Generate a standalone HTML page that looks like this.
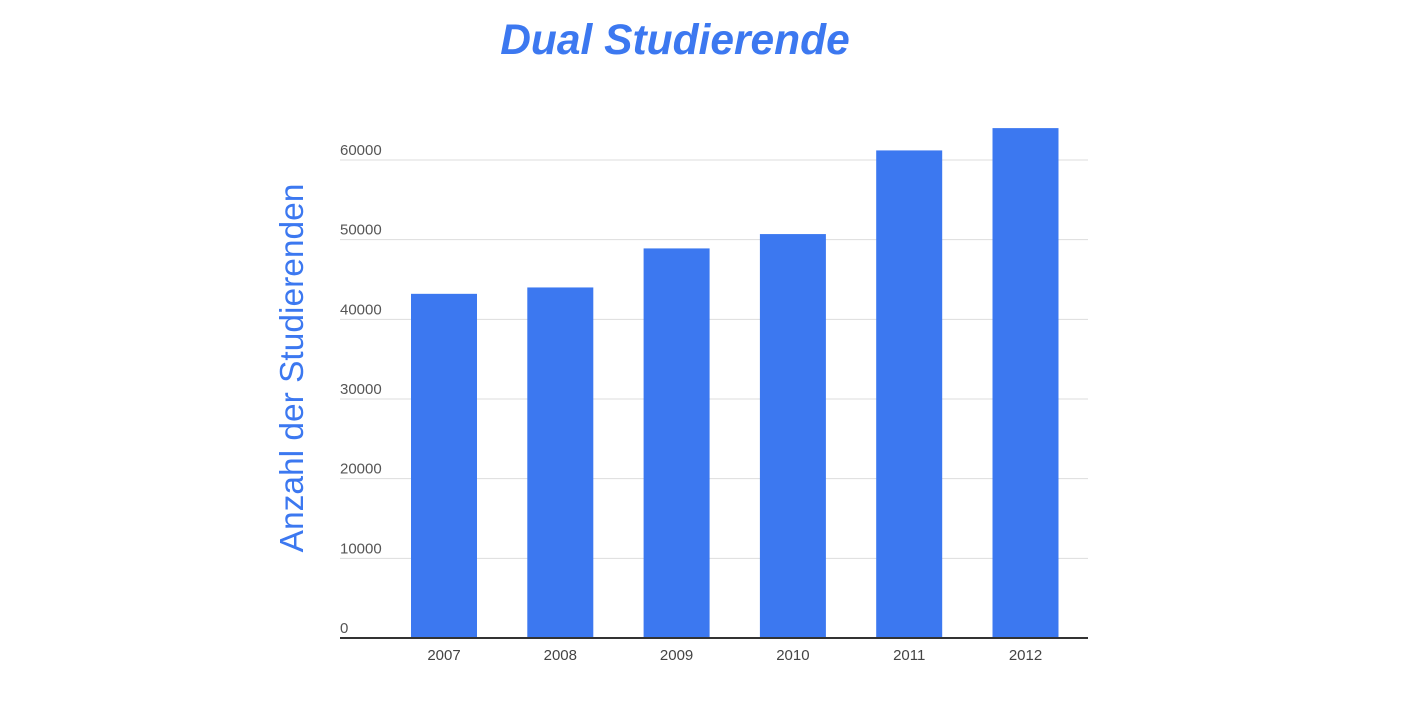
<!DOCTYPE html>
<html><head><meta charset="utf-8"><style>
body{margin:0;background:#fff;width:1401px;height:711px;overflow:hidden}
svg{display:block;font-family:"Liberation Sans",Arial,sans-serif}
</style></head><body>
<svg width="1401" height="711">
<text x="675" y="54" text-anchor="middle" font-size="42.5" font-weight="bold" font-style="italic" fill="#3c78f0">Dual Studierende</text>
<text transform="translate(303,368) rotate(-90)" text-anchor="middle" font-size="33.5" fill="#3c78f0">Anzahl der Studierenden</text>
<g id="grid"></g><g id="bars"></g><g id="xl"></g>
<line x1="340" x2="1088" y1="638" y2="638" stroke="#333" stroke-width="2"/>
</svg>
<script>
const categories=["2007","2008","2009","2010","2011","2012"];
const values=[43200,44000,48900,50700,61200,64000];
const ticks=[0,10000,20000,30000,40000,50000,60000];
const NS="http://www.w3.org/2000/svg";
const y=v=>638-v*0.007967;
const x=i=>444+i*116.3;
const g=document.getElementById('grid'),b=document.getElementById('bars'),xl=document.getElementById('xl');
ticks.forEach(t=>{
 if(t>0){const l=document.createElementNS(NS,'line');
 l.setAttribute('x1',340);l.setAttribute('x2',1088);l.setAttribute('y1',y(t));l.setAttribute('y2',y(t));l.setAttribute('stroke','#ddd');
 
 
 g.appendChild(l);}
 const tx=document.createElementNS(NS,'text');
 tx.setAttribute('x',340);tx.setAttribute('y',y(t)-5);tx.setAttribute('font-size','15');tx.setAttribute('fill','#555');
 tx.textContent=t;
 
 
 g.appendChild(tx);
});
categories.forEach((c,i)=>{
 const r=document.createElementNS(NS,'rect');
 r.setAttribute('x',x(i)-33);r.setAttribute('width',66);r.setAttribute('y',y(values[i]));r.setAttribute('height',638-y(values[i]));r.setAttribute('fill','#3c78f0');
 
 
 b.appendChild(r);
 const t=document.createElementNS(NS,'text');
 t.setAttribute('x',x(i));t.setAttribute('y',660);t.setAttribute('text-anchor','middle');t.setAttribute('font-size','15');t.setAttribute('fill','#444');
 t.textContent=c;
 
 
 xl.appendChild(t);
});
</script>
</body></html>
